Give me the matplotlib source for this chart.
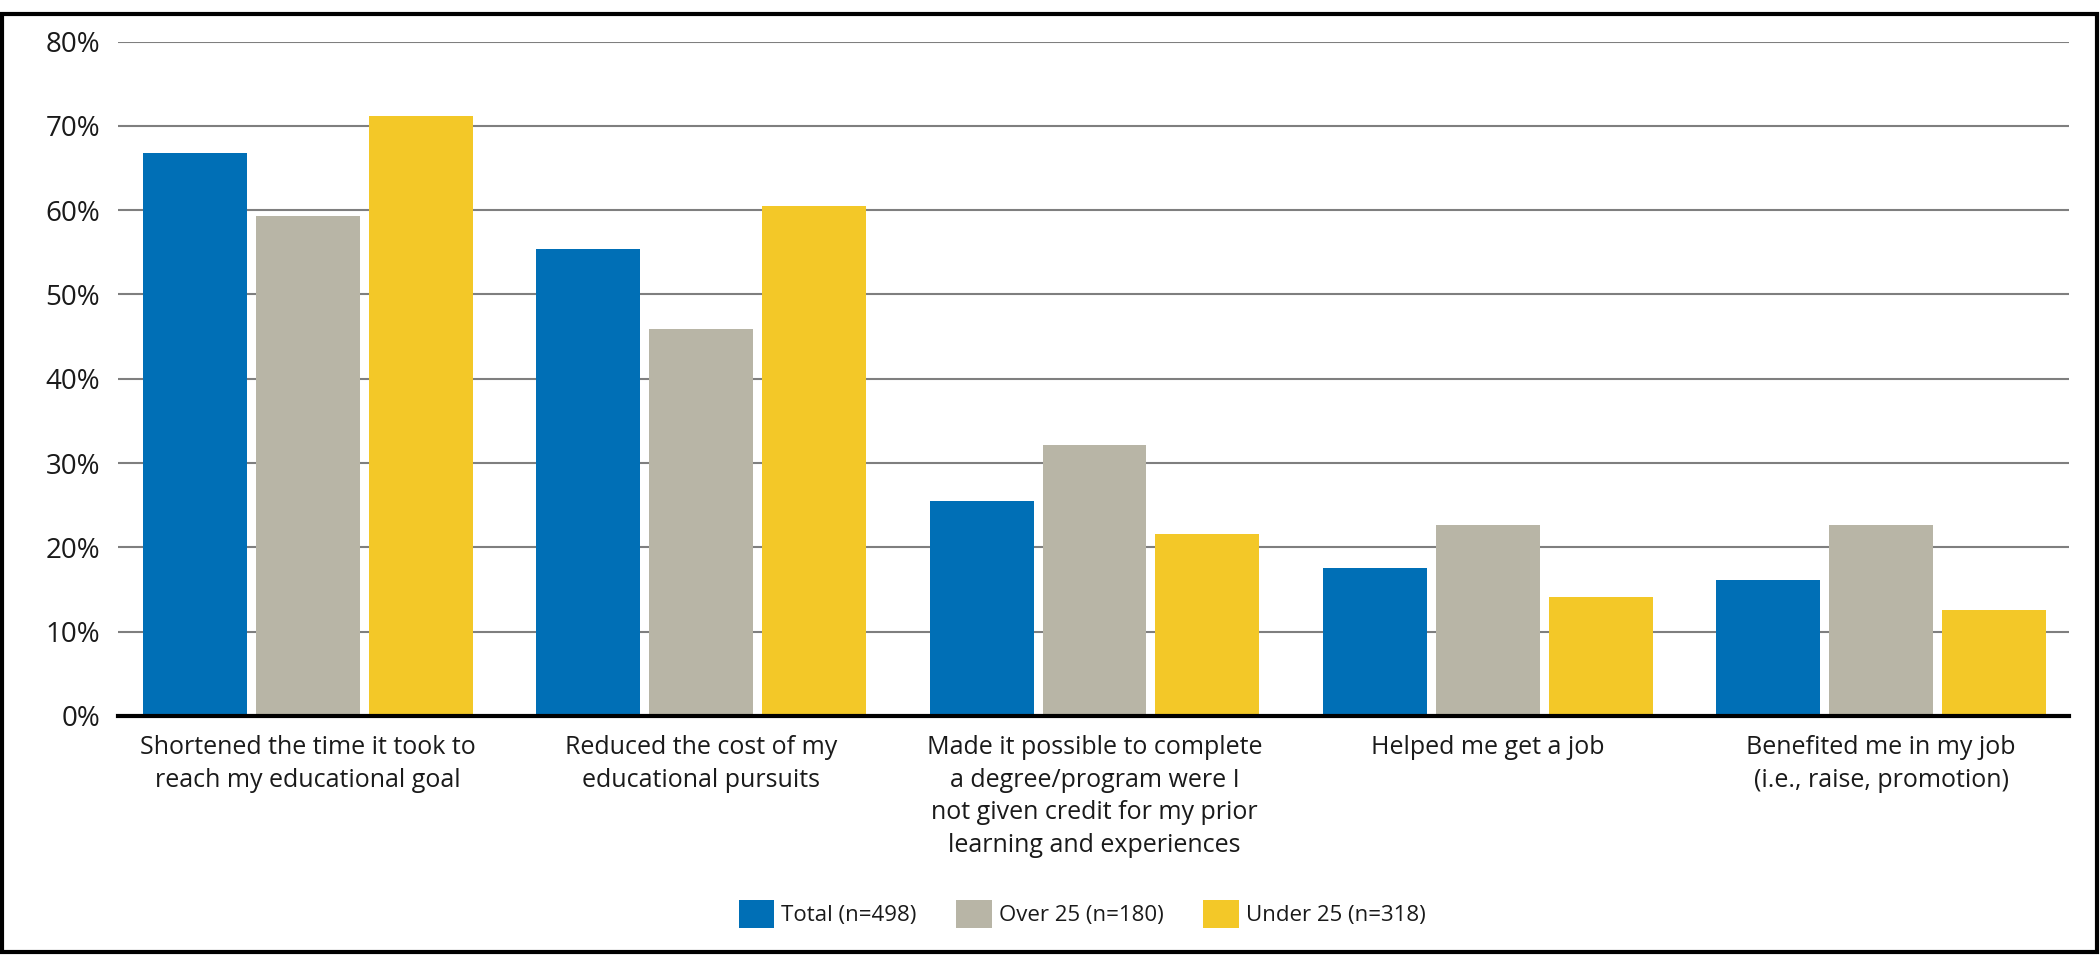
import matplotlib
matplotlib.use("Agg")
import matplotlib.pyplot as plt
from matplotlib.patches import Rectangle, Patch
import numpy as np

categories = [
    "Shortened the time it took to\nreach my educational goal",
    "Reduced the cost of my\neducational pursuits",
    "Made it possible to complete\na degree/program were I\nnot given credit for my prior\nlearning and experiences",
    "Helped me get a job",
    "Benefited me in my job\n(i.e., raise, promotion)",
]
series_names = ["Total (n=498)", "Over 25 (n=180)", "Under 25 (n=318)"]
total = [66.8, 55.4, 25.5, 17.6, 16.1]
over25 = [59.3, 45.9, 32.1, 22.7, 22.7]
under25 = [71.2, 60.5, 21.6, 14.1, 12.6]
yticks = [0, 10, 20, 30, 40, 50, 60, 70, 80]
ytick_labels = ["0%", "10%", "20%", "30%", "40%", "50%", "60%", "70%", "80%"]

colors = ["#006FB6", "#B8B5A6", "#F3C828"]

plt.rcParams["font.family"] = ["Open Sans", "DejaVu Sans"]

fig = plt.figure(figsize=(21, 9.56), dpi=100)
ax = fig.add_axes([118 / 2100, 1 - 716 / 956, (2069 - 118) / 2100, (716 - 41.5) / 956])

x = np.arange(len(categories))
w = 0.264
step = 0.287
for k, (vals, c, name) in enumerate(zip([total, over25, under25], colors, series_names)):
    ax.bar(x + (k - 1) * step, vals, width=w, color=c, label=name, zorder=3, linewidth=0)

ax.set_ylim(0, 80)
ax.set_xlim(-0.483, 4.478)
ax.set_yticks(yticks)
ax.set_yticklabels(ytick_labels, fontsize=20, color="#1a1a1a")
ax.tick_params(axis="y", length=0, pad=13)
ax.tick_params(axis="x", length=0, pad=14)
ax.set_xticks(x)
ax.set_xticklabels(categories, fontsize=18, color="#1a1a1a", linespacing=1.39, va="top")
ax.yaxis.grid(True, color="#7f7f7f", linewidth=1.5, zorder=0)
ax.set_axisbelow(True)
for s in ["top", "right", "left"]:
    ax.spines[s].set_visible(False)
ax.spines["bottom"].set_linewidth(3)
ax.spines["bottom"].set_color("black")
ax.spines["bottom"].set_zorder(4)

handles = [Patch(facecolor=c, edgecolor="none") for c in colors]
fig.legend(handles, series_names, loc="center", bbox_to_anchor=(1082 / 2100, 1 - 914 / 956),
           ncol=3, frameon=False, fontsize=16, handlelength=1.6, handleheight=1.6,
           handletextpad=0.3, columnspacing=1.8, labelcolor="#1a1a1a")

fig.patches.append(Rectangle((2 / 2100, 1 - 952 / 956), 2095 / 2100, (952 - 14) / 956,
                             transform=fig.transFigure, fill=False, edgecolor="black",
                             linewidth=3, zorder=10))

fig.savefig("out.png", dpi=100, facecolor="white")
